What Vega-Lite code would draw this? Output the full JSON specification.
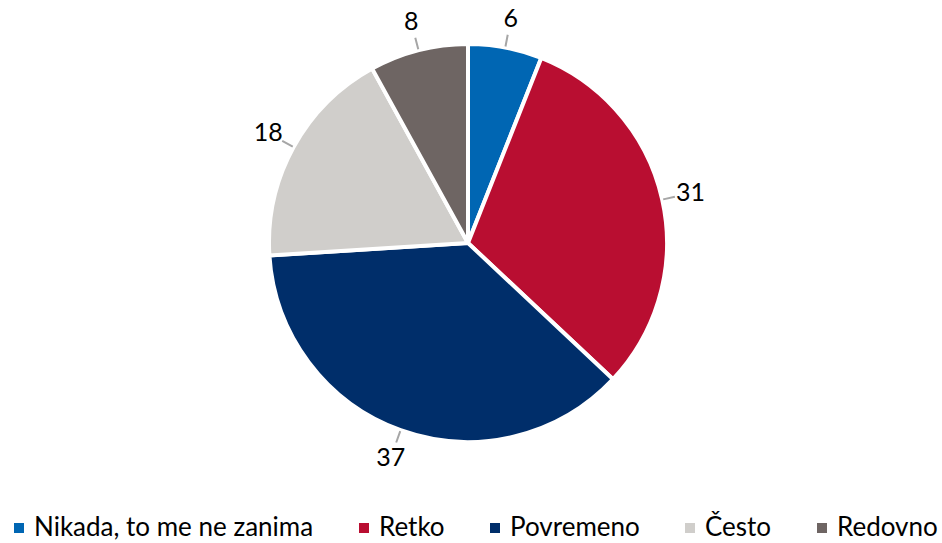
{
  "$schema": "https://vega.github.io/schema/vega-lite/v6.json",
  "width": 936,
  "height": 486,
  "padding": 0,
  "background": "white",
  "config": {"view": {"stroke": null}, "font": "Lato"},
  "data": {
    "values": [
      {"kat": "Nikada, to me ne zanima", "v": 6, "ord": 1},
      {"kat": "Retko", "v": 31, "ord": 2},
      {"kat": "Povremeno", "v": 37, "ord": 3},
      {"kat": "Često", "v": 18, "ord": 4},
      {"kat": "Redovno", "v": 8, "ord": 5}
    ]
  },
  "encoding": {
    "theta": {"field": "v", "type": "quantitative", "stack": true},
    "order": {"field": "ord", "type": "quantitative"}
  },
  "layer": [
    {
      "mark": {"type": "arc", "outerRadius": 199, "stroke": "white", "strokeWidth": 4},
      "encoding": {
        "color": {
          "field": "kat",
          "type": "nominal",
          "scale": {
            "domain": ["Nikada, to me ne zanima", "Retko", "Povremeno", "Često", "Redovno"],
            "range": ["#0066b3", "#b90e31", "#002e6a", "#d0cecb", "#6e6563"]
          },
          "legend": {
            "title": null,
            "orient": "none",
            "legendX": 6,
            "legendY": 515,
            "direction": "horizontal",
            "symbolType": "square",
            "symbolSize": 100,
            "symbolStrokeWidth": 0,
            "labelFont": "Lato",
            "labelFontSize": 26,
            "labelColor": "black",
            "labelOffset": 2,
            "columnPadding": 37,
            "labelLimit": 400
          }
        }
      }
    },
    {
      "mark": {"type": "arc", "innerRadius": 200, "outerRadius": 212, "padAngle": 3, "fill": null, "stroke": "#a6a6a6", "strokeWidth": 2}
    },
    {
      "mark": {"type": "text", "radius": 228, "fontSize": 25, "font": "Lato", "color": "black", "align": "center", "baseline": "middle"},
      "encoding": {"text": {"field": "v", "type": "quantitative"}}
    }
  ]
}
